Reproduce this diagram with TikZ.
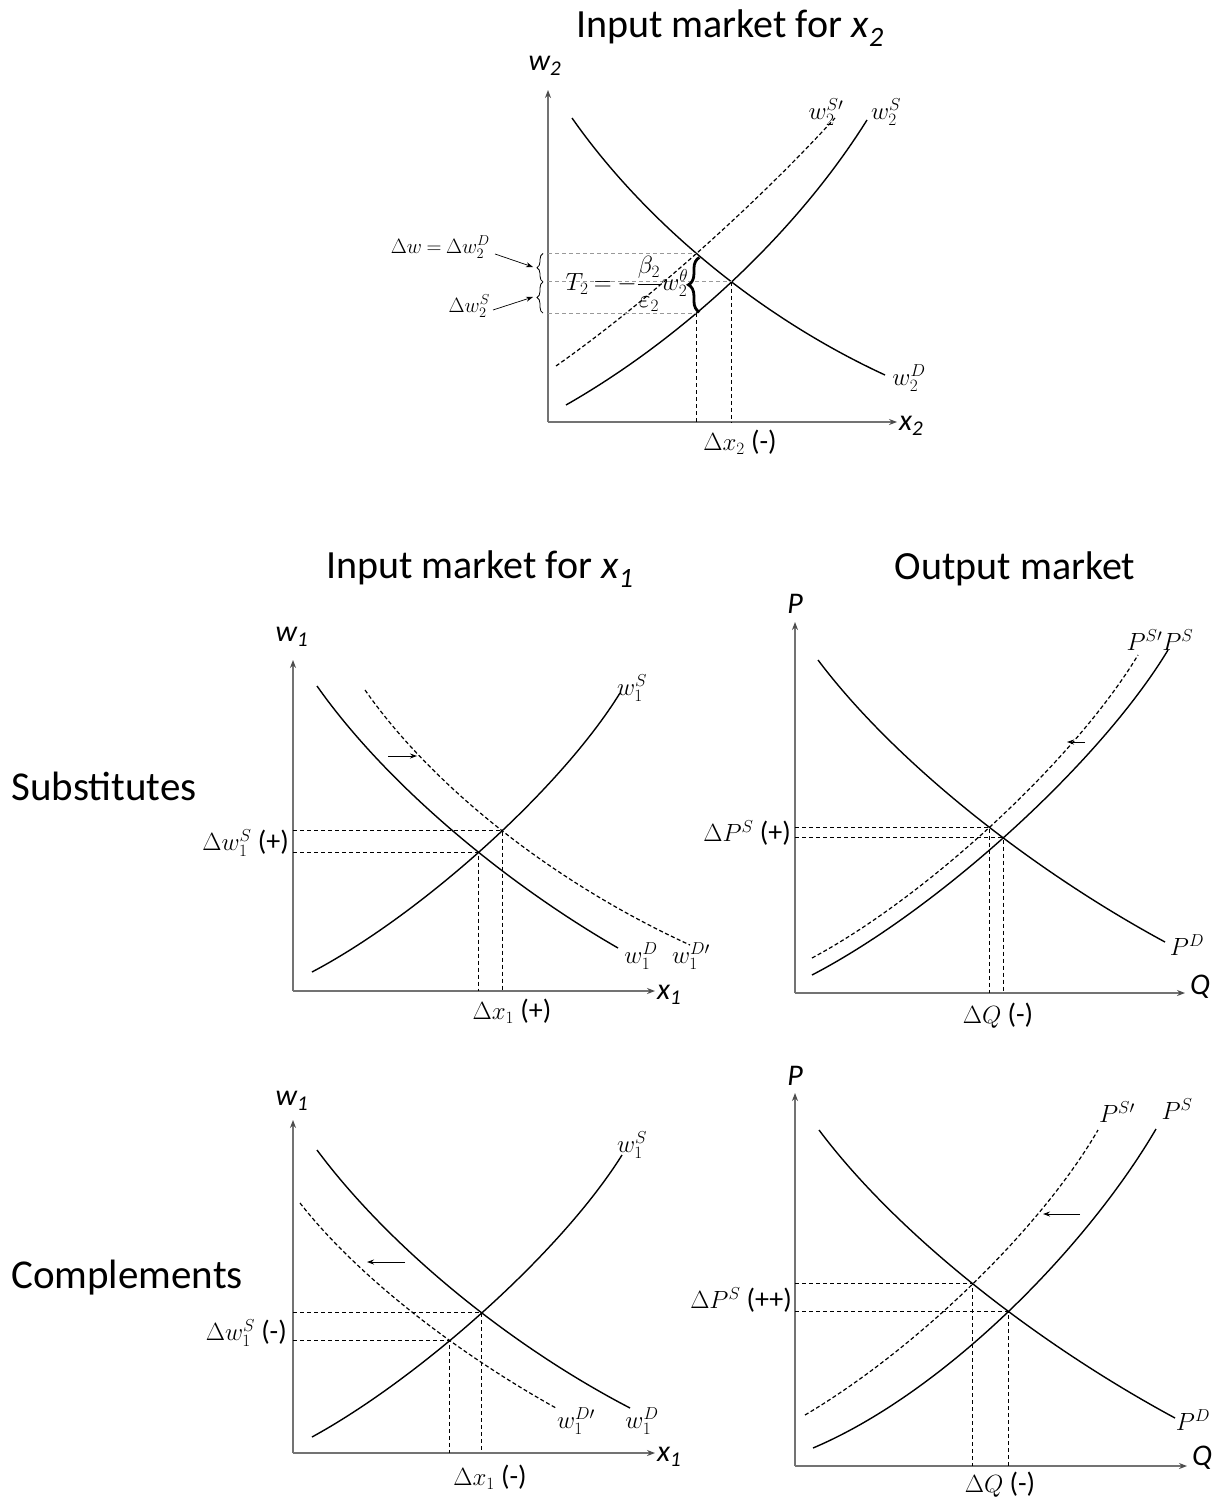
\documentclass[tikz,border=0pt]{standalone}
\usepackage{fontspec}
\setmainfont{Liberation Serif}
\newfontfamily\calib{Carlito}
\usetikzlibrary{intersections,decorations.pathreplacing,arrows.meta,calc}
\newcommand{\pmf}{\calib\fontsize{28}{30}\selectfont}
\begin{document}
\begin{tikzpicture}[x=1pt,y=-1pt,
  axis/.style={draw=black!55, line width=1.2pt, -{Stealth[length=8pt,width=6pt,black!70]}},
  crv/.style={line width=1.4pt},
  dcrv/.style={line width=1.2pt, dash pattern=on 4pt off 2.5pt},
  guide/.style={line width=0.9pt, dash pattern=on 4pt off 3pt},
  lguide/.style={guide, draw=black!40},
  mlbl/.style={font=\fontsize{22}{24}\selectfont, inner sep=0pt},
  clbl/.style={font=\fontsize{24}{26}\selectfont, inner sep=0pt},
  dlbl/.style={font=\fontsize{25}{27}\selectfont, inner sep=0pt},
  ttl/.style={font=\calib\fontsize{40}{44}\selectfont, inner sep=0pt},
  side/.style={font=\calib\fontsize{41}{44}\selectfont, inner sep=0pt},
  axl/.style={font=\calib\itshape\fontsize{30}{32}\selectfont, inner sep=0pt},
  sarrow/.style={line width=0.9pt, -{Stealth[length=7pt,width=5pt]}},
  brc/.style={decorate, decoration={brace, amplitude=6pt}, line width=0.8pt},
]
\useasboundingbox[fill=white] (0,0) rectangle (1222,1504);

% ================= TOP: input market for x2 =================
\node[ttl] (t2) at (730,28) {Input market for \textit{x}\textsubscript{\textit{2}}};
\coordinate (O2) at (548,422);
\coordinate (Y2) at (548,90);
\coordinate (X2) at (897,422);
\draw[axis] (O2) -- (Y2);
\draw[axis] (O2) -- (X2);
\node[axl] (lw2) at (545,66) {w\textsubscript{2}};
\node[axl, anchor=west] (lx2) at (899,426) {x\textsubscript{2}};

\draw[crv, name path=D2] (572,118) .. controls (642,218) and (755,315) .. (885,375);
\draw[crv, name path=S2] (566,405) .. controls (680,340) and (795,235) .. (867,120);
\draw[dcrv, name path=Sp2] (556,366) .. controls (650,300) and (760,200) .. (835,118);
\path[name intersections={of=D2 and S2, by=E2}];
\path[name intersections={of=D2 and Sp2, by=F2}];
\path[name path=V2] (F2) -- (F2 |- O2);
\path[name intersections={of=V2 and S2, by=G2}];

\draw[lguide] (O2 |- F2) -- (F2);
\draw[lguide] (O2 |- E2) -- (E2);
\draw[lguide] (O2 |- G2) -- (G2);
\draw[guide] (G2) -- (G2 |- O2);
\draw[guide] (E2) -- (E2 |- O2);

\draw[brc] ($(O2 |- G2)+(-5,0)$) -- ($(O2 |- E2)+(-5,0)$);
\draw[brc] ($(O2 |- E2)+(-5,0)$) -- ($(O2 |- F2)+(-5,0)$);
\draw[decorate, decoration={brace, amplitude=11pt}, line width=2.8pt] ($(G2)+(3,-1)$) -- ($(F2)+(3,4)$);

\node[mlbl, font=\fontsize{23}{25}\selectfont] (T2) at (627,284) {$T_2\mkern-1mu=\mkern-1mu-{\displaystyle\frac{\beta_2}{\varepsilon_2}}w_2^{\theta}$};
\node[mlbl, anchor=east] (lDw) at (490,247) {$\Delta w\mkern-1mu=\mkern-1mu\Delta w_2^D$};
\node[mlbl, anchor=east] (lDs) at (490,306) {$\Delta w_2^S$};
\coordinate (aDw) at (533,267);
\coordinate (aDs) at (533,297);
\draw[sarrow, line width=0.7pt] ($(lDw.east)+(5,7)$) -- (aDw);
\draw[sarrow, line width=0.7pt] ($(lDs.east)+(3,4)$) -- (aDs);

\node[clbl] (lSp2) at (826,112) {$w_2^{S\prime}$};
\node[clbl] (lS2) at (886,112) {$w_2^{S}$};
\node[clbl] (lD2) at (909,378) {$w_2^{D}$};
\node[dlbl] (ldx2) at (740,442) {$\Delta x_2$ {\pmf(-)}};

% ================= MIDDLE LEFT: substitutes, x1 =================
\node[ttl] (t1) at (480,569) {Input market for \textit{x}\textsubscript{\textit{1}}};
\node[side] (sub) at (104,786) {Substitutes};
\coordinate (O1s) at (293,991);
\coordinate (Y1s) at (293,660);
\coordinate (X1s) at (655,991);
\draw[axis] (O1s) -- (Y1s);
\draw[axis] (O1s) -- (X1s);
\node[axl] (lw1s) at (292,637) {w\textsubscript{1}};
\node[axl, anchor=west] (lx1s) at (657,995) {x\textsubscript{1}};

\draw[crv, name path=D1s] (317,686) .. controls (383,780) and (500,880) .. (618,948);
\draw[dcrv, name path=Dp1s] (365,690) .. controls (430,783) and (548,880) .. (690,945);
\draw[crv, name path=S1s] (312,972) .. controls (420,915) and (560,790) .. (620,693);
\path[name intersections={of=D1s and S1s, by=E1s}];
\path[name intersections={of=Dp1s and S1s, by=F1s}];
\draw[guide] (O1s |- F1s) -- (F1s) -- (F1s |- O1s);
\draw[guide] (O1s |- E1s) -- (E1s) -- (E1s |- O1s);
\coordinate (a1s) at (388,756);
\coordinate (b1s) at (417,756);
\draw[sarrow] (a1s) -- (b1s);

\node[dlbl, anchor=east] (ldw1s) at (289,843) {$\Delta w_1^S$ {\pmf(+)}};
\node[clbl] (lS1s) at (632,688) {$w_1^{S}$};
\node[clbl] (lD1s) at (641,956) {$w_1^{D}$};
\node[clbl] (lDp1s) at (691,956) {$w_1^{D\prime}$};
\node[dlbl] (ldx1s) at (512,1011) {$\Delta x_1$ {\pmf(+)}};

% ================= MIDDLE RIGHT: output, substitutes =================
\node[ttl] (to) at (1015,569) {Output market};
\coordinate (OPs) at (795,993);
\coordinate (YPs) at (795,622);
\coordinate (XPs) at (1185,993);
\draw[axis] (OPs) -- (YPs);
\draw[axis] (OPs) -- (XPs);
\node[axl] (lPs) at (795,604) {P};
\node[axl, anchor=west] (lQs) at (1190,987) {Q};

\draw[crv, name path=DPs] (818,660) .. controls (894,761) and (1030,869) .. (1165,942);
\draw[crv, name path=SPs] (812,975) .. controls (937,910) and (1099,764) .. (1168,650);
\draw[dcrv, name path=SpPs] (812,958) .. controls (926,897) and (1074,761) .. (1138,655);
\path[name intersections={of=DPs and SPs, by=EPs}];
\path[name intersections={of=DPs and SpPs, by=FPs}];
\draw[guide] (OPs |- FPs) -- (FPs) -- (FPs |- OPs);
\draw[guide] (OPs |- EPs) -- (EPs) -- (EPs |- OPs);
\coordinate (aPs) at (1085,742);
\coordinate (bPs) at (1067,742);
\draw[sarrow] (aPs) -- (bPs);

\node[dlbl, anchor=east] (ldPs) at (791,833) {$\Delta P^S$ {\pmf(+)}};
\node[clbl] (lSPs) at (1160,640) {$P^{S\prime}P^{S}$};
\node[clbl] (lDPs) at (1187,945) {$P^{D}$};
\node[dlbl] (ldQs) at (998,1016) {$\Delta Q$ {\pmf(-)}};

% ================= BOTTOM LEFT: complements, x1 =================
\node[side] (com) at (127,1278) {Complements};
\coordinate (O1c) at (293,1453);
\coordinate (Y1c) at (293,1120);
\coordinate (X1c) at (655,1453);
\draw[axis] (O1c) -- (Y1c);
\draw[axis] (O1c) -- (X1c);
\node[axl] (lw1c) at (292,1101) {w\textsubscript{1}};
\node[axl, anchor=west] (lx1c) at (657,1457) {x\textsubscript{1}};

\draw[crv, name path=D1c] (317,1150) .. controls (386,1243) and (505,1343) .. (630,1408);
\draw[dcrv, name path=Dp1c] (300,1203) .. controls (362,1282) and (466,1358) .. (556,1408);
\draw[crv, name path=S1c] (312,1437) .. controls (418,1379) and (560,1254) .. (622,1155);
\path[name intersections={of=D1c and S1c, by=E1c}];
\path[name intersections={of=Dp1c and S1c, by=F1c}];
\draw[guide] (O1c |- F1c) -- (F1c) -- (F1c |- O1c);
\draw[guide] (O1c |- E1c) -- (E1c) -- (E1c |- O1c);
\coordinate (a1c) at (405,1262);
\coordinate (b1c) at (367,1262);
\draw[sarrow] (a1c) -- (b1c);

\node[dlbl, anchor=east] (ldw1c) at (287,1333) {$\Delta w_1^S$ {\pmf(-)}};
\node[clbl] (lS1c) at (632,1145) {$w_1^{S}$};
\node[clbl] (lDp1c) at (576,1421) {$w_1^{D\prime}$};
\node[clbl] (lD1c) at (642,1421) {$w_1^{D}$};
\node[dlbl] (ldx1c) at (490,1477) {$\Delta x_1$ {\pmf(-)}};

% ================= BOTTOM RIGHT: output, complements =================
\coordinate (OPc) at (795,1466);
\coordinate (YPc) at (795,1093);
\coordinate (XPc) at (1187,1466);
\draw[axis] (OPc) -- (YPc);
\draw[axis] (OPc) -- (XPc);
\node[axl] (lPc) at (795,1076) {P};
\node[axl, anchor=west] (lQc) at (1192,1458) {Q};

\draw[crv, name path=DPc] (819,1130) .. controls (897,1234) and (1036,1343) .. (1175,1418);
\draw[crv, name path=SPc] (813,1448) .. controls (943,1393) and (1085,1250) .. (1156,1129);
\draw[dcrv, name path=SpPc] (805,1415) .. controls (915,1350) and (1040,1230) .. (1098,1130);
\path[name intersections={of=DPc and SPc, by=EPc}];
\path[name intersections={of=DPc and SpPc, by=FPc}];
\draw[guide] (OPc |- FPc) -- (FPc) -- (FPc |- OPc);
\draw[guide] (OPc |- EPc) -- (EPc) -- (EPc |- OPc);
\coordinate (aPc) at (1080,1214);
\coordinate (bPc) at (1043,1214);
\draw[sarrow] (aPc) -- (bPc);

\node[dlbl, anchor=east] (ldPc) at (792,1300) {$\Delta P^S$ {\pmf(++)}};
\node[clbl] (lSpPc) at (1117,1112) {$P^{S\prime}$};
\node[clbl] (lSPc) at (1177,1109) {$P^{S}$};
\node[clbl] (lDPc) at (1193,1420) {$P^{D}$};
\node[dlbl] (ldQc) at (1000,1485) {$\Delta Q$ {\pmf(-)}};
\end{tikzpicture}
\end{document}
